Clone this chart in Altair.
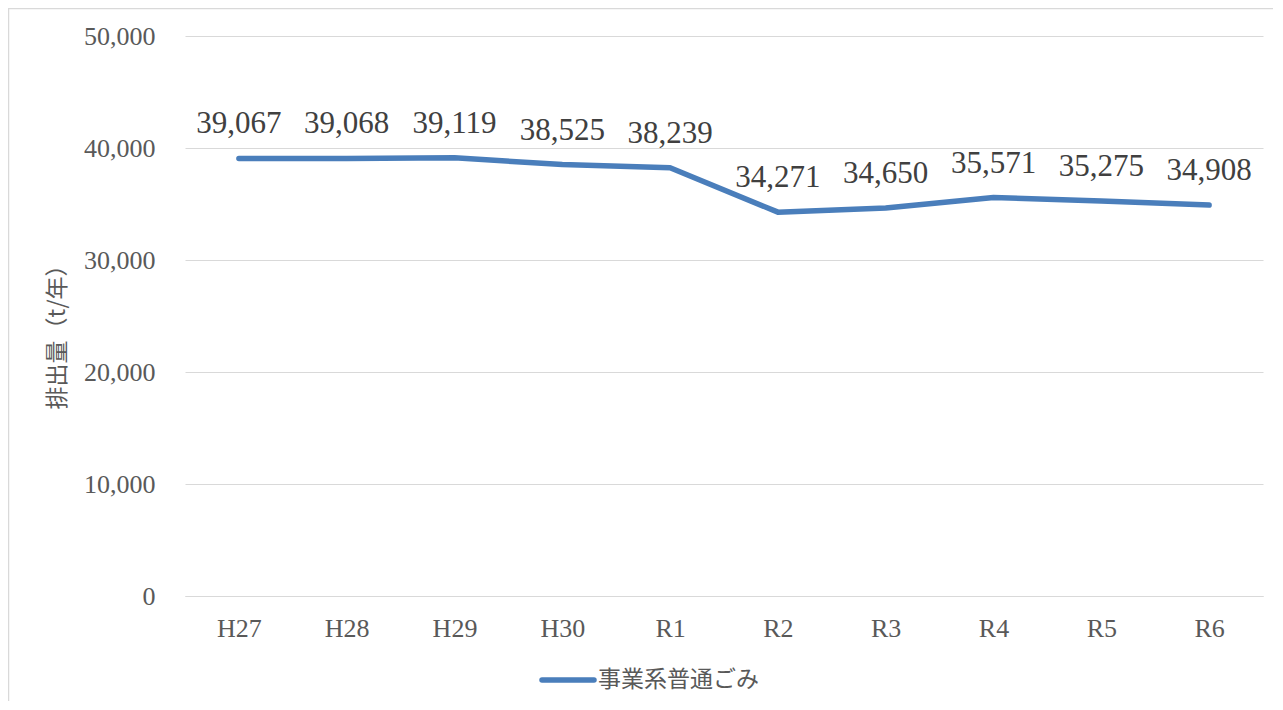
import altair as alt
import pandas as pd

categories = ["H27", "H28", "H29", "H30", "R1", "R2", "R3", "R4", "R5", "R6"]
values = [39067, 39068, 39119, 38525, 38239, 34271, 34650, 35571, 35275, 34908]
series_name = "事業系普通ごみ"
y_ticks = [0, 10000, 20000, 30000, 40000, 50000]
y_title = "排出量（t/年）"

df = pd.DataFrame({
    "year": categories,
    "value": values,
    "label": [f"{v:,}" for v in values],
})
legend_df = pd.DataFrame({"name": [series_name]})

LINE_COLOR = "#4a7ebb"
GRID = "#d9d9d9"
AXIS_TXT = "#595959"
SERIF = "Liberation Serif"
CJK = "Noto Sans CJK JP"

x_axis = alt.Axis(
    title=None, labelAngle=0, labelFont=SERIF, labelFontSize=26,
    labelColor=AXIS_TXT, labelPadding=19, domainColor=GRID,
    domainWidth=1, ticks=False, grid=False,
)
y_axis = alt.Axis(
    values=y_ticks, labelExpr="format(datum.value, ',')", title=y_title,
    titleFont=CJK, titleFontSize=23, titleFontWeight="normal",
    titleColor=AXIS_TXT, titleX=-128, titleY=295, titleAngle=270,
    titleAlign="center", titleBaseline="middle",
    labelFont=SERIF, labelFontSize=26, labelColor=AXIS_TXT,
    labelPadding=30, domain=False, ticks=False,
    gridColor=GRID, gridWidth=1,
)
x_scale = alt.Scale(type="point", padding=0.5)
y_scale = alt.Scale(domain=[0, 50000], nice=False)

x_enc = alt.X("year:N", sort=categories, scale=x_scale, axis=x_axis)
y_enc = alt.Y("value:Q", scale=y_scale, axis=y_axis)

base = alt.Chart(df)
line = base.mark_line(
    color=LINE_COLOR, strokeWidth=5.5, strokeCap="round", strokeJoin="round"
).encode(x=x_enc, y=y_enc)

labels = base.mark_text(
    font=SERIF, fontSize=31, color="#404040", baseline="middle", dy=-34
).encode(x=x_enc, y=y_enc, text="label:N")

leg_line = alt.Chart(legend_df).mark_rule(
    color=LINE_COLOR, strokeWidth=5.5, strokeCap="round"
).encode(x=alt.value(357), x2=alt.value(409), y=alt.value(644))

leg_text = alt.Chart(legend_df).mark_text(
    font=CJK, fontSize=23, color=AXIS_TXT, align="left", baseline="middle"
).encode(x=alt.value(413), y=alt.value(644), text="name:N")

frame_top = alt.Chart(legend_df).mark_rule(
    color=GRID, strokeWidth=1.5
).encode(x=alt.value(-177), x2=alt.value(1300), y=alt.value(-27.5))

frame_left = alt.Chart(legend_df).mark_rule(
    color=GRID, strokeWidth=1.5
).encode(x=alt.value(-176.5), y=alt.value(-28), y2=alt.value(900))

chart = alt.layer(frame_top, frame_left, line, labels, leg_line, leg_text).properties(
    width=1078,
    height=560,
    autosize=alt.AutoSizeParams(type="none"),
    padding={"left": 177, "top": 28, "right": 10, "bottom": 105},
).configure_view(stroke=None)

chart.save("out.html", embed_options={"renderer": "svg", "actions": False})
